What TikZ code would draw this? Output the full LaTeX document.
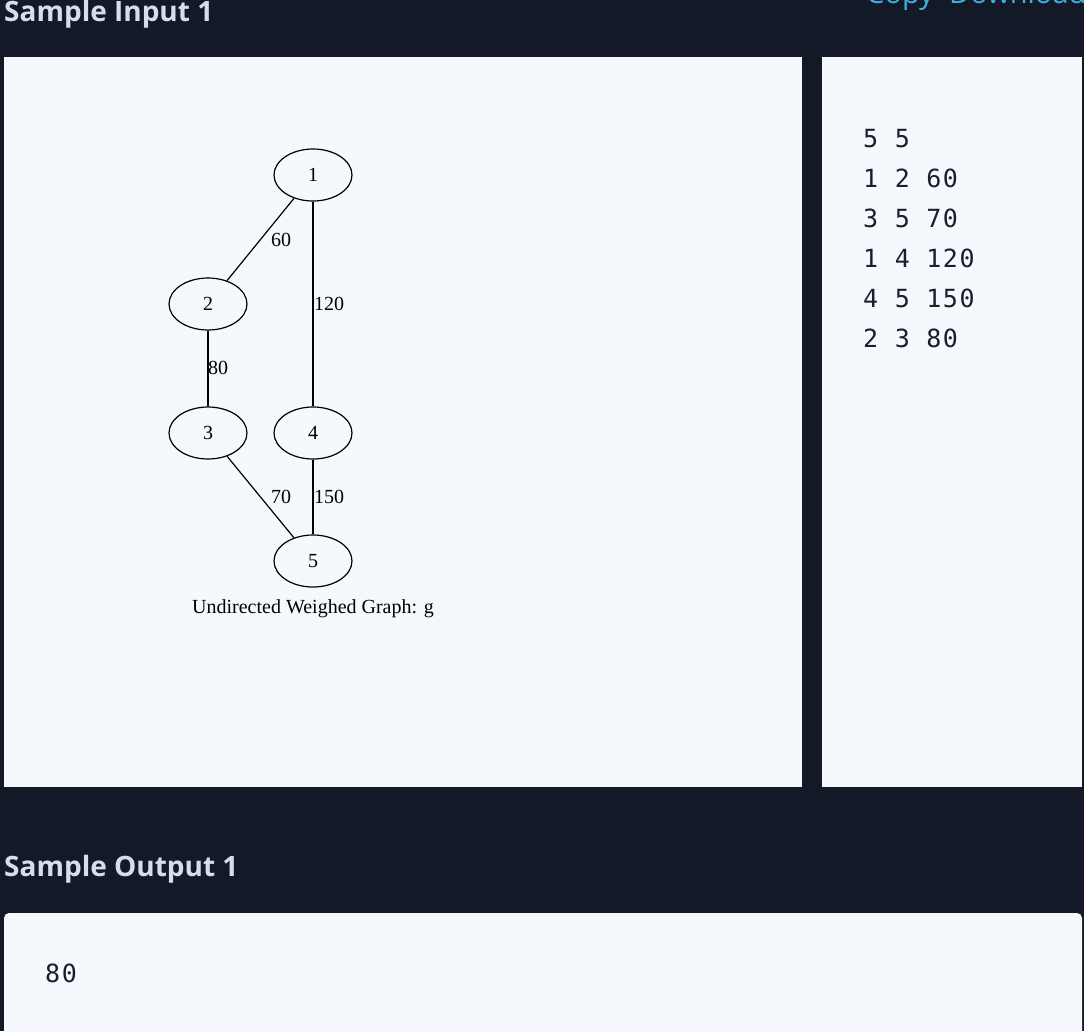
\documentclass[tikz,border=0pt]{standalone}
\usepackage{fontspec}
\setmainfont{Liberation Serif}
\newfontfamily\headfont{Open Sans}
\newfontfamily\monof[LetterSpace=6]{DejaVu Sans Mono}
\usetikzlibrary{shapes.geometric}
\definecolor{bgdark}{HTML}{131926}
\definecolor{panel}{HTML}{F5F9FD}
\definecolor{headcol}{HTML}{D3DEEF}
\definecolor{linkcol}{HTML}{3FB0E0}
\definecolor{codecol}{HTML}{1A1F2B}
\tikzset{
  gnode/.style={ellipse, draw=black, line width=1.2pt, minimum width=78pt, minimum height=52pt, inner sep=0pt, font=\fontsize{20}{20}\selectfont},
  gedge/.style={draw=black, line width=1.2pt},
  elabel/.style={inner sep=0pt, font=\fontsize{20}{20}\selectfont},
  heading/.style={anchor=base west, inner sep=0pt, text=headcol, font=\headfont\bfseries\fontsize{28}{28}\selectfont},
  linktext/.style={anchor=base west, inner sep=0pt, text=linkcol, font=\headfont\fontsize{29}{29}\selectfont},
  codeline/.style={anchor=base west, inner sep=0pt, text=codecol, font=\monof\fontsize{25}{25}\selectfont},
}
\begin{document}
\begin{tikzpicture}[x=1pt,y=-1pt]
\useasboundingbox (0,0) rectangle (1084,1031);
\clip (0,0) rectangle (1084,1031);
\fill[bgdark] (0,0) rectangle (1084,1031);
% headings
\node[heading] (hin) at (4,21) {Sample Input 1};
\node[linktext] (copy) at (866,3) {Copy};
\node[linktext] (download) at (949,3) {Download};
\node[heading] (hout) at (4,876) {Sample Output 1};
% panels
\fill[panel] (4,57) rectangle (802,787);
\fill[panel] (822,57) rectangle (1082,787);
\fill[panel, rounded corners=5pt] (4,913) rectangle (1082,1045);
% graph
\node[gnode] (n1) at (313,175) {1};
\node[gnode] (n2) at (208,304) {2};
\node[gnode] (n3) at (208,433) {3};
\node[gnode] (n4) at (313,433) {4};
\node[gnode] (n5) at (313,561) {5};
\draw[gedge] (n1) -- (n2);
\draw[gedge] (n1) -- (n4);
\draw[gedge] (n2) -- (n3);
\draw[gedge] (n3) -- (n5);
\draw[gedge] (n4) -- (n5);
\node[elabel, anchor=base] (l12) at (281,246) {60};
\node[elabel, anchor=base west] (l14) at (314,310) {120};
\node[elabel, anchor=base west] (l23) at (208,374) {80};
\node[elabel, anchor=base] (l35) at (281,503) {70};
\node[elabel, anchor=base west] (l45) at (314,503) {150};
\node[elabel, anchor=base] (cap) at (313,613) {Undirected Weighed Graph: g};
% input text
\node[codeline] (c1) at (863,147) {5 5};
\node[codeline] (c2) at (863,187) {1 2 60};
\node[codeline] (c3) at (863,227) {3 5 70};
\node[codeline] (c4) at (863,267) {1 4 120};
\node[codeline] (c5) at (863,307) {4 5 150};
\node[codeline] (c6) at (863,347) {2 3 80};
% output text
\node[codeline] (out) at (45,982) {80};
\end{tikzpicture}
\end{document}
